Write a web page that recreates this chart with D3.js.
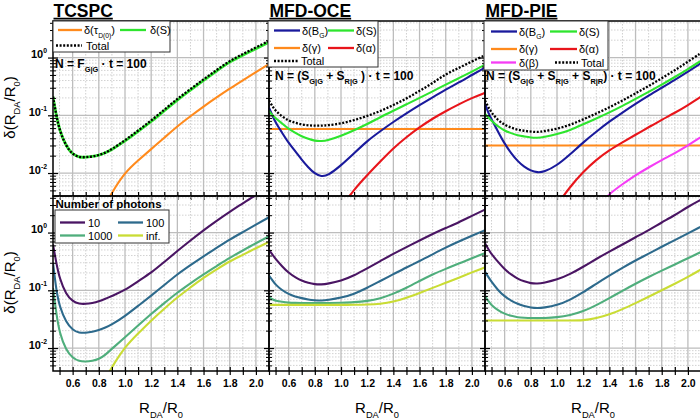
<!DOCTYPE html>
<html><head><meta charset="utf-8">
<script src="https://cdn.jsdelivr.net/npm/d3@7"></script>
<style>
body{margin:0;background:#fff}
svg{display:block;font-family:"Liberation Sans",Arial,sans-serif}
text{white-space:pre}
</style>
</head><body>
<svg id="c" width="700" height="420"></svg>
<script>
// ---------------- DATA ----------------
const R = [0.45,0.475,0.5,0.55,0.6,0.65,0.7,0.75,0.8,0.85,0.9,1.0,1.1,1.2,1.3,1.4,1.5,1.6,1.7,1.8,1.9,2.0,2.1];
const RFlat = [0.45, 2.1];

// TCSPC (top)
const tcTau   = [null,null,null,null,null,null,null,null,0.0015,0.0028,0.0046,0.0103,0.0165,0.026,0.0408,0.0647,0.0964,0.142,0.204,0.29,0.404,0.562,0.77];
const tcS     = [0.21,0.1,0.055,0.029,0.021,0.0188,0.0187,0.0193,0.0203,0.0222,0.0255,0.0357,0.0526,0.0774,0.12,0.185,0.272,0.403,0.585,0.85,1.1,1.43,1.84];
const tcTotal = [0.21,0.1,0.055,0.029,0.021,0.0188,0.0187,0.0193,0.0204,0.0224,0.0259,0.0368,0.0545,0.081,0.125,0.193,0.285,0.42,0.61,0.88,1.15,1.5,1.95];
// TCSPC (bottom, number of photons)
const tcN10   = [0.62,0.3,0.16,0.085,0.064,0.058,0.058,0.06,0.064,0.071,0.08,0.1,0.144,0.2,0.31,0.48,0.73,1.1,1.6,2.3,3.2,4.5,6.1];
const tcN100  = [0.3,0.1,0.052,0.028,0.0205,0.0183,0.0183,0.019,0.0205,0.0225,0.0255,0.0356,0.0537,0.081,0.123,0.19,0.273,0.39,0.543,0.76,1.02,1.37,1.84];
const tcN1000 = [0.11,0.04,0.018,0.0092,0.0067,0.0059,0.0058,0.006,0.0064,0.0076,0.0097,0.0153,0.0245,0.039,0.06,0.0916,0.132,0.19,0.263,0.366,0.49,0.655,0.86];
const tcNinf  = [null,null,null,null,null,null,null,0.0008,0.0016,0.0029,0.0047,0.0105,0.0178,0.03,0.048,0.0757,0.112,0.166,0.23,0.32,0.41,0.537,0.69];

// MFD-OCE (top)
const ocB     = [0.135,0.1,0.075,0.05,0.033,0.024,0.017,0.0125,0.0097,0.0087,0.009,0.0135,0.022,0.036,0.053,0.077,0.108,0.15,0.205,0.28,0.37,0.5,0.67];
const ocS     = [0.12,0.1,0.09,0.072,0.058,0.05,0.043,0.039,0.036,0.0355,0.037,0.044,0.055,0.07,0.093,0.12,0.155,0.2,0.26,0.34,0.44,0.57,0.75];
const ocGamma = [0.058,0.058];
const ocAlpha = [null,null,null,null,null,null,null,null,null,null,null,0.0025,0.0052,0.0092,0.0158,0.027,0.042,0.062,0.088,0.118,0.155,0.2,0.245];
const ocTotal = [0.18,0.145,0.12,0.095,0.081,0.074,0.069,0.067,0.066,0.066,0.067,0.072,0.082,0.097,0.118,0.15,0.195,0.265,0.36,0.52,0.66,0.86,1.1];
// MFD-OCE (bottom)
const ocN10   = [0.5,0.42,0.35,0.26,0.2,0.168,0.146,0.134,0.127,0.126,0.13,0.146,0.18,0.24,0.32,0.43,0.56,0.73,0.95,1.2,1.5,1.95,2.5];
const ocN100  = [0.18,0.15,0.125,0.1,0.086,0.078,0.073,0.069,0.067,0.066,0.068,0.074,0.086,0.11,0.145,0.19,0.25,0.32,0.42,0.55,0.7,0.88,1.1];
const ocN1000 = [0.075,0.07,0.066,0.063,0.061,0.0605,0.06,0.06,0.06,0.06,0.06,0.061,0.062,0.065,0.072,0.087,0.11,0.145,0.19,0.235,0.29,0.36,0.44];
const ocNinf  = [0.056,0.056,0.056,0.056,0.056,0.056,0.056,0.056,0.056,0.056,0.056,0.056,0.056,0.0565,0.058,0.063,0.074,0.09,0.11,0.135,0.165,0.205,0.25];

// MFD-PIE (top)
const pB      = [0.16,0.11,0.085,0.052,0.032,0.022,0.016,0.0127,0.011,0.0102,0.0104,0.0135,0.021,0.034,0.052,0.078,0.112,0.158,0.22,0.3,0.41,0.57,0.8];
const pS      = [0.106,0.092,0.08,0.064,0.054,0.049,0.045,0.043,0.041,0.0405,0.042,0.047,0.055,0.07,0.088,0.112,0.145,0.192,0.255,0.34,0.46,0.63,0.88];
const pGamma  = [0.030,0.030];
const pAlpha  = [null,null,null,null,null,null,null,null,null,null,null,0.0028,0.0058,0.0105,0.017,0.025,0.034,0.046,0.062,0.084,0.11,0.15,0.21];
const pBeta   = [null,null,null,null,null,null,null,null,null,null,null,null,null,null,0.0025,0.0044,0.0064,0.0092,0.0125,0.0168,0.022,0.030,0.042];
const pTotal  = [0.18,0.14,0.11,0.082,0.068,0.061,0.056,0.054,0.052,0.051,0.053,0.058,0.068,0.085,0.107,0.137,0.18,0.24,0.32,0.44,0.6,0.85,1.2];
// MFD-PIE (bottom)
const pN10    = [0.65,0.52,0.42,0.31,0.23,0.187,0.158,0.142,0.132,0.13,0.135,0.152,0.19,0.255,0.35,0.47,0.62,0.83,1.1,1.5,2.0,2.8,3.7];
const pN100   = [0.21,0.17,0.14,0.1,0.078,0.066,0.058,0.053,0.05,0.049,0.05,0.055,0.068,0.092,0.13,0.18,0.245,0.33,0.43,0.57,0.74,0.97,1.27];
const pN1000  = [0.08,0.065,0.055,0.045,0.039,0.036,0.034,0.0335,0.033,0.033,0.033,0.034,0.037,0.043,0.055,0.073,0.098,0.13,0.17,0.22,0.28,0.36,0.46];
const pNinf   = [0.030,0.030,0.030,0.030,0.030,0.030,0.030,0.030,0.030,0.030,0.030,0.030,0.030,0.030,0.033,0.038,0.047,0.06,0.077,0.1,0.13,0.17,0.23];

const titles = ["TCSPC","MFD-OCE","MFD-PIE"];
const xTicks = [0.6,0.8,1.0,1.2,1.4,1.6,1.8,2.0];
const xTickLabels = ["0.6","0.8","1.0","1.2","1.4","1.6","1.8","2.0"];
const yTicks = [0.01,0.1,1];
const yTickExp = ["-2","-1","0"];
const photonLabels = ["10","100","1000","inf."];

// ---------------- STYLE ----------------
const C = {blue:"#1a1a9c", green:"#2ee52e", orange:"#ff8a1c", red:"#e8151b", magenta:"#f53cf5",
  n10:"#4a1563", n100:"#2d6a8c", n1000:"#4fae7c", ninf:"#c9dc34", black:"#000"};
const X0 = [53,269,485], PW = 216;
const ROWS = [{y:21,h:175},{y:196,h:175}];
const FONT = '"Liberation Sans",Arial,sans-serif';

const svg = d3.select("#c");
svg.append("rect").attr("width",700).attr("height",420).attr("fill","#fff");

function rich(sel, parts, fs){
  let shift = 0;
  parts.forEach(p=>{
    const t = typeof p === "string" ? p : p[0];
    const k = typeof p === "string" ? "" : p[1];
    const target = k==="sub" ? fs*0.32 : (k==="sup" ? -fs*0.42 : 0);
    const ts = sel.append("tspan").text(t).attr("dy", (target-shift).toFixed(2));
    if(k) ts.attr("font-size", (fs*0.62).toFixed(1));
    shift = target;
  });
  return sel;
}

const panelSeries = [
  [ // TCSPC
    [{x:R,v:tcTau,c:C.orange},{x:R,v:tcS,c:C.green,w:2.8},{x:R,v:tcTotal,c:C.black,dot:true}],
    [{x:R,v:tcN10,c:C.n10},{x:R,v:tcN100,c:C.n100},{x:R,v:tcN1000,c:C.n1000},{x:R,v:tcNinf,c:C.ninf}]
  ],
  [ // MFD-OCE
    [{x:RFlat,v:ocGamma,c:C.orange},{x:R,v:ocAlpha,c:C.red},{x:R,v:ocB,c:C.blue},{x:R,v:ocS,c:C.green},{x:R,v:ocTotal,c:C.black,dot:true}],
    [{x:R,v:ocN10,c:C.n10},{x:R,v:ocN100,c:C.n100},{x:R,v:ocN1000,c:C.n1000},{x:R,v:ocNinf,c:C.ninf}]
  ],
  [ // MFD-PIE
    [{x:RFlat,v:pGamma,c:C.orange},{x:R,v:pAlpha,c:C.red},{x:R,v:pBeta,c:C.magenta},{x:R,v:pB,c:C.blue},{x:R,v:pS,c:C.green},{x:R,v:pTotal,c:C.black,dot:true}],
    [{x:R,v:pN10,c:C.n10},{x:R,v:pN100,c:C.n100},{x:R,v:pN1000,c:C.n1000},{x:R,v:pNinf,c:C.ninf}]
  ]
];

// minor grid helpers
const xMinorAll = d3.range(5,22).map(i=>i/10);             // 0.5 .. 2.1
const xMinorGrid = xMinorAll.filter(v=>Math.round(v*10)%2===1);
const yMinor = [];
[0.001,0.01,0.1,1].forEach(d=>{ for(let k=2;k<=9;k++){ const v=k*d; if(v>0.004 && v<4.3) yMinor.push(v);} });

X0.forEach((x0,ci)=>{
  const x = d3.scaleLinear().domain([0.45,2.1]).range([x0,x0+PW]);
  ROWS.forEach((row,ri)=>{
    const y = d3.scaleLog().domain([0.004,4.3]).range([row.y+row.h,row.y]);
    const g = svg.append("g");
    const cid = `clip${ci}${ri}`;
    svg.append("clipPath").attr("id",cid).append("rect")
      .attr("x",x0).attr("y",row.y).attr("width",PW).attr("height",row.h);
    const gc = g.append("g").attr("clip-path",`url(#${cid})`);
    // grid
    gc.selectAll(".gxm").data(xMinorGrid).join("line")
      .attr("x1",d=>x(d)).attr("x2",d=>x(d)).attr("y1",row.y).attr("y2",row.y+row.h)
      .attr("stroke","#cfcfcf").attr("stroke-width",1).attr("stroke-dasharray","1.5,1.5");
    gc.selectAll(".gym").data(yMinor).join("line")
      .attr("x1",x0).attr("x2",x0+PW).attr("y1",d=>y(d)).attr("y2",d=>y(d))
      .attr("stroke","#d2d2d2").attr("stroke-width",1).attr("stroke-dasharray","1.5,1.5");
    gc.selectAll(".gx").data(xTicks).join("line")
      .attr("x1",d=>x(d)).attr("x2",d=>x(d)).attr("y1",row.y).attr("y2",row.y+row.h)
      .attr("stroke","#bdbdbd").attr("stroke-width",1.3);
    gc.selectAll(".gy").data(yTicks).join("line")
      .attr("x1",x0).attr("x2",x0+PW).attr("y1",d=>y(d)).attr("y2",d=>y(d))
      .attr("stroke","#bdbdbd").attr("stroke-width",1.3);
    // curves
    panelSeries[ci][ri].forEach(s=>{
      const pts = s.x.map((r,i)=>[r,s.v[i]]);
      const line = d3.line().defined(d=>d[1]!=null).x(d=>x(d[0])).y(d=>y(d[1]))
        .curve(d3.curveBasis);
      gc.append("path").attr("d",line(pts)).attr("fill","none")
        .attr("stroke",s.c).attr("stroke-width",s.dot?2.3:(s.w||2.1))
        .attr("stroke-dasharray",s.dot?"2,1.6":null).attr("stroke-linejoin","round");
    });
    // frame
    g.append("rect").attr("x",x0).attr("y",row.y).attr("width",PW).attr("height",row.h)
      .attr("fill","none").attr("stroke","#000").attr("stroke-width",1.5);
    // bottom ticks (crossing)
    const ax = d3.axisBottom(x).tickValues(xMinorAll).tickFormat("").tickSizeOuter(0);
    const gx = g.append("g").attr("transform",`translate(0,${row.y+row.h})`).call(ax);
    gx.select(".domain").remove();
    gx.selectAll("line").attr("y1",-4).attr("y2",4).attr("stroke","#000").attr("stroke-width",1.2);
    // left ticks
    const ayM = d3.axisLeft(y).tickValues(yTicks).tickFormat("").tickSizeOuter(0);
    const gyM = g.append("g").attr("transform",`translate(${x0},0)`).call(ayM);
    gyM.select(".domain").remove();
    gyM.selectAll("line").attr("x1",-5).attr("x2",5).attr("stroke","#000").attr("stroke-width",1.2);
    const aym = d3.axisLeft(y).tickValues(yMinor).tickFormat("").tickSizeOuter(0);
    const gym = g.append("g").attr("transform",`translate(${x0},0)`).call(aym);
    gym.select(".domain").remove();
    gym.selectAll("line").attr("x1",-3).attr("x2",3).attr("stroke","#000").attr("stroke-width",1);
    // y tick labels (first column only)
    if(ci===0){
      const ayl = d3.axisLeft(y).tickValues(yTicks).tickFormat("").tickSize(0);
      const gyl = g.append("g").attr("transform",`translate(${x0-6},0)`).call(ayl);
      gyl.select(".domain").remove();
      gyl.selectAll(".tick text").each(function(d){
        const t = d3.select(this).attr("x",0).attr("dy","0.32em").attr("text-anchor","end")
          .attr("font-family",FONT).attr("font-weight","bold").attr("font-size",11).attr("fill","#000");
        rich(t,["10",[yTickExp[yTicks.indexOf(d)],"sup"]],11);
      });
    }
    // x tick labels (bottom row)
    if(ri===1){
      const axl = d3.axisBottom(x).tickValues(xTicks).tickFormat((d,i)=>xTickLabels[i]).tickSize(0).tickPadding(0);
      const gxl = g.append("g").attr("transform",`translate(0,${row.y+row.h+16})`).call(axl);
      gxl.select(".domain").remove();
      gxl.selectAll("text").attr("font-family",FONT).attr("font-weight","bold").attr("font-size",10.5)
        .attr("fill","#000").attr("dy",0);
    }
  });
  // title
  const tt = svg.append("text").attr("x",x0+0.5).attr("y",16.5).attr("font-family",FONT)
    .attr("font-weight","bold").attr("font-size",17.5).attr("fill","#000").text(titles[ci]);
  const tw = tt.node().getComputedTextLength();
  svg.append("line").attr("x1",x0+0.5).attr("x2",x0+0.5+tw).attr("y1",18.6).attr("y2",18.6)
    .attr("stroke","#000").attr("stroke-width",1.8);
  // x axis label
  const xl = svg.append("text").attr("x",x0+PW/2).attr("y",413).attr("text-anchor","middle")
    .attr("font-family",FONT).attr("font-size",15).attr("fill","#000");
  rich(xl,["R",["DA","sub"],"/R",["0","sub"]],15);
});

// y axis labels
ROWS.forEach(row=>{
  const cy = row.y+row.h/2 - 1;
  const t = svg.append("text").attr("transform",`translate(15,${cy}) rotate(-90)`)
    .attr("text-anchor","middle").attr("font-family",FONT).attr("font-size",15).attr("fill","#000");
  rich(t,["δ(R",["DA","sub"],"/R",["0","sub"],")"],15);
});

// legends
function legendBox(x,y,w,h){
  svg.append("rect").attr("x",x).attr("y",y).attr("width",w).attr("height",h)
    .attr("fill","#fff").attr("stroke","#333").attr("stroke-width",1);
}
function legendItem(lx1,lx2,ly,color,dot,tx,parts){
  svg.append("line").attr("x1",lx1).attr("x2",lx2).attr("y1",ly).attr("y2",ly)
    .attr("stroke",color).attr("stroke-width",2.3).attr("stroke-dasharray",dot?"2,1.6":null);
  const t = svg.append("text").attr("x",tx).attr("y",ly+4).attr("font-family",FONT)
    .attr("font-size",11).attr("fill","#000");
  rich(t,parts,11);
}
function note(x,yb,parts,fs){
  const t = svg.append("text").attr("x",x).attr("y",yb).attr("font-family",FONT)
    .attr("font-weight","bold").attr("font-size",fs).attr("fill","#000");
  rich(t,parts,fs);
}
// TCSPC top
legendBox(53,21,117,31);
legendItem(58,82,30,C.orange,false,84,["δ(τ",["D(0)","sub"],")"]);
legendItem(120,146,30,C.green,false,150,["δ(S)"]);
legendItem(56,82,45.5,C.black,true,86,["Total"]);
note(55,68,["N = F",["G|G","sub"]," · t = 100"],12);
// MFD-OCE top
legendBox(268,21,110,46);
legendItem(274,300,30.5,C.blue,false,302,["δ(B",["G","sub"],")"]);
legendItem(328,354,30.5,C.green,false,356,["δ(S)"]);
legendItem(274,300,48,C.orange,false,302,["δ(γ)"]);
legendItem(328,354,48,C.red,false,356,["δ(α)"]);
legendItem(274,299,61,C.black,true,301,["Total"]);
note(275,80,["N = (S",["G|G","sub"]," + S",["R|G","sub"]," ) · t = 100"],12);
// MFD-PIE top
legendBox(484,21,124,49);
legendItem(491,517,31.5,C.blue,false,519,["δ(B",["G","sub"],")"]);
legendItem(550,577,31.5,C.green,false,579,["δ(S)"]);
legendItem(491,517,49,C.orange,false,519,["δ(γ)"]);
legendItem(550,577,49,C.red,false,579,["δ(α)"]);
legendItem(491,516,62.5,C.magenta,false,519,["δ(β)"]);
legendItem(555,578,62.5,C.black,true,581,["Total"]);
note(486,80,["N = (S",["G|G","sub"]," + S",["R|G","sub"]," + S",["R|R","sub"],") · t = 100"],12);
// TCSPC bottom: number of photons
note(55.5,207.5,["Number of photons"],11.5);
legendBox(55,210,114,33);
legendItem(60,85,222.5,C.n10,false,88,[photonLabels[0]]);
legendItem(118,143,222.5,C.n100,false,146,[photonLabels[1]]);
legendItem(60,85,235.5,C.n1000,false,88,[photonLabels[2]]);
legendItem(118,143,235.5,C.ninf,false,146,[photonLabels[3]]);
</script>
</body></html>
